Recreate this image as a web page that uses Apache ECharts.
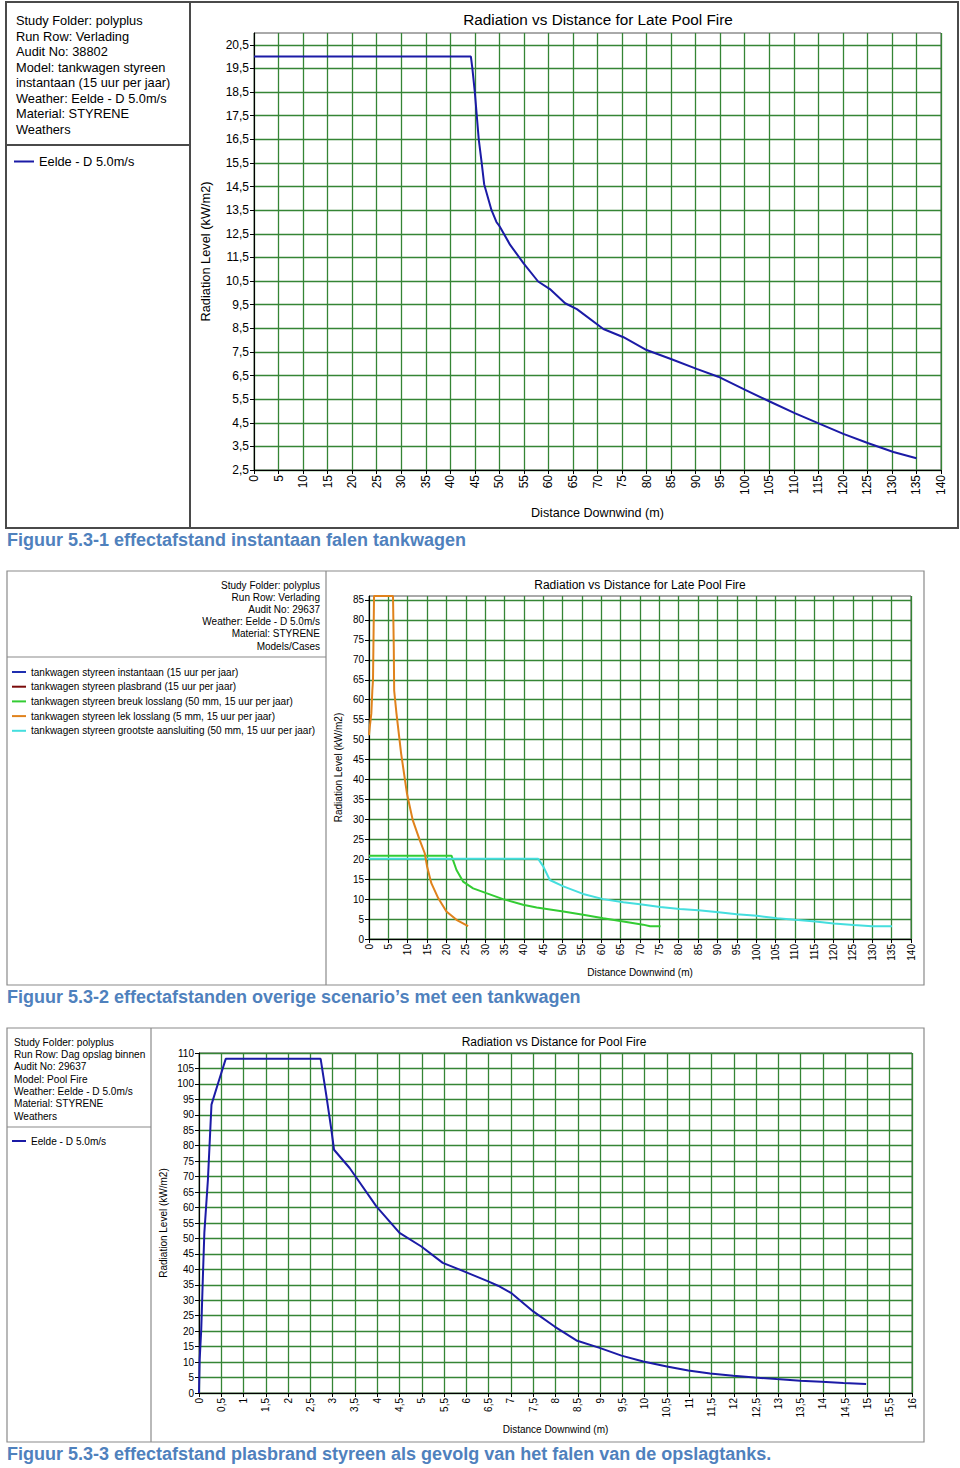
<!DOCTYPE html>
<html><head><meta charset="utf-8">
<script src="https://cdn.jsdelivr.net/npm/echarts@6/dist/echarts.min.js"></script>
<style>html,body{margin:0;padding:0;background:#fff}#c{width:960px;height:1468px}</style>
</head><body><div id="c"></div>
<script>
// ---------- DATA ----------
// Figure 1: instantaneous failure tank truck  [distance (m), radiation (kW/m2)]
const c1Instantaan = [[0,20.0],[44.2,20.0],[44.5,19.5],[45.0,18.5],[45.8,16.5],[46.4,15.5],[46.9,14.6],[48.4,13.5],[49.4,13.0],[50.1,12.8],[52.2,12.03],[54.9,11.26],[57.9,10.48],[60.3,10.16],[63.4,9.56],[65.8,9.31],[71.2,8.47],[75.3,8.12],[80.0,7.58],[85.1,7.19],[90.2,6.78],[94.6,6.45],[100.1,5.89],[105.2,5.39],[110.3,4.9],[115.3,4.45],[120.1,4.03],[125.2,3.63],[130.3,3.26],[135.0,3.0]];
const c1YTicks = [2.5,3.5,4.5,5.5,6.5,7.5,8.5,9.5,10.5,11.5,12.5,13.5,14.5,15.5,16.5,17.5,18.5,19.5,20.5];
const c1Info = ['Study Folder: polyplus','Run Row: Verlading','Audit No: 38802','Model: tankwagen styreen','instantaan (15 uur per jaar)','Weather: Eelde - D 5.0m/s','Material: STYRENE','Weathers'];
const c1SeriesName = 'Eelde - D 5.0m/s';

// Figure 2: other tank truck scenarios (instantaan / plasbrand not visible in the plot)
const c2Names = ['tankwagen styreen instantaan (15 uur per jaar)','tankwagen styreen plasbrand (15 uur per jaar)','tankwagen styreen breuk losslang (50 mm, 15 uur per jaar)','tankwagen styreen lek losslang (5 mm, 15 uur per jaar)','tankwagen styreen grootste aansluiting (50 mm, 15 uur per jaar)'];
const c2Instantaan = [];
const c2Plasbrand = [];
const c2Breuk = [[0,20.9],[21.3,20.9],[22.6,17.3],[24.3,14.4],[26.9,12.7],[30.3,11.5],[34.6,10.0],[39.8,8.6],[43.3,7.9],[50.2,6.9],[55.3,6.1],[60.5,5.2],[65.7,4.4],[70.8,3.6],[72.6,3.2],[75.3,3.2]];
const c2Lek = [[0,51.1],[0.2,53.2],[0.6,56.5],[0.86,62.3],[1.03,64.8],[1.3,86],[6.2,86],[6.4,73.2],[6.5,62.3],[7.1,56.5],[8.3,46.5],[9.8,36.5],[11.3,29.8],[13.1,24.8],[14.4,21.5],[15.0,18.2],[16.1,14.0],[17.9,10.2],[20.0,6.9],[22.6,4.8],[25.6,3.2]];
const c2Grootste = [[0,20.1],[43.7,20.1],[45.0,18.2],[46.7,14.8],[50.2,13.2],[55.3,11.3],[60.5,10.0],[65.7,9.2],[70.0,8.7],[75.2,8.0],[80.3,7.5],[85.1,7.2],[90.3,6.7],[95.0,6.2],[100.2,5.8],[105.4,5.2],[110.1,4.8],[115.3,4.4],[120.0,3.9],[125.2,3.5],[129.9,3.2],[135.1,3.2]];
const c2YTicks = [0,5,10,15,20,25,30,35,40,45,50,55,60,65,70,75,80,85];
const c2Info = ['Study Folder: polyplus','Run Row: Verlading','Audit No: 29637','Weather: Eelde - D 5.0m/s','Material: STYRENE','Models/Cases'];

// Figure 3: pool fire storage tanks
const c3PoolFire = [[0,0],[0.015,10.8],[0.05,20.5],[0.09,38.8],[0.12,51.8],[0.2,69.0],[0.28,93.3],[0.43,100.3],[0.6,108.1],[2.73,108.1],[2.86,96.0],[2.97,85.2],[3.03,78.7],[3.38,72.8],[3.98,60.4],[4.5,51.8],[4.99,47.4],[5.47,42.1],[5.85,39.9],[6.49,36.1],[6.71,34.7],[7.0,32.4],[7.5,26.4],[7.98,21.5],[8.47,17.0],[8.99,14.6],[9.48,12.1],[9.97,10.2],[10.5,8.6],[10.98,7.3],[11.47,6.3],[11.99,5.6],[12.47,5.0],[12.96,4.5],[13.49,4.0],[13.97,3.6],[14.46,3.2],[14.97,2.9]];
const c3YTicks = [0,5,10,15,20,25,30,35,40,45,50,55,60,65,70,75,80,85,90,95,100,105,110];
const c3Info = ['Study Folder: polyplus','Run Row: Dag opslag binnen','Audit No: 29637','Model: Pool Fire','Weather: Eelde - D 5.0m/s','Material: STYRENE','Weathers'];
const c3SeriesName = 'Eelde - D 5.0m/s';

const captions = ['Figuur 5.3-1 effectafstand instantaan falen tankwagen','Figuur 5.3-2 effectafstanden overige scenario\u2019s met een tankwagen','Figuur 5.3-3 effectafstand plasbrand styreen als gevolg van het falen van de opslagtanks.'];
const titles = ['Radiation vs Distance for Late Pool Fire','Radiation vs Distance for Late Pool Fire','Radiation vs Distance for Pool Fire'];
const xName = 'Distance Downwind (m)';
const yName = 'Radiation Level (kW/m2)';

// ---------- STYLE ----------
const FONT = '"Liberation Sans", Arial, sans-serif';
const GREEN = '#358535';
const NAVY = '#1b1ba6';
const comma = v => String(v).replace('.', ',');

function xAx(gi, max, interval, fs, nameGap, nameFs) {
  return {
    type:'value', gridIndex:gi, min:0, max:max, interval:interval,
    name:xName, nameLocation:'middle', nameGap:nameGap, nameMoveOverlap:false,
    nameTextStyle:{fontSize:nameFs, color:'#000', fontFamily:FONT},
    axisLine:{show:true, onZero:false, lineStyle:{color:'#000', width:1}},
    axisTick:{show:true, length:4, lineStyle:{color:'#000'}},
    axisLabel:{rotate:90, fontSize:fs, color:'#000', fontFamily:FONT, margin:5, formatter:comma, hideOverlap:false, showMinLabel:true, showMaxLabel:true},
    splitLine:{show:true, lineStyle:{color:GREEN, width:1.3}}
  };
}
function yAx(gi, min, max, ticks, fs, nameGap, nameFs) {
  return {
    type:'value', gridIndex:gi, min:min, max:max,
    name:yName, nameLocation:'middle', nameGap:nameGap, nameRotate:90, nameMoveOverlap:false,
    nameTextStyle:{fontSize:nameFs, color:'#000', fontFamily:FONT},
    axisLine:{show:true, onZero:false, lineStyle:{color:'#000', width:1}},
    axisTick:{show:true, length:4, customValues:ticks, lineStyle:{color:'#000'}},
    axisLabel:{customValues:ticks, fontSize:fs, color:'#000', fontFamily:FONT, margin:5, formatter:comma, hideOverlap:false},
    splitLine:{show:true, lineStyle:{color:GREEN, width:1.3}}
  };
}
function line(name, xi, data, color, z) {
  return {type:'line', name:name, xAxisIndex:xi, yAxisIndex:xi, data:data, symbol:'none', showSymbol:false, clip:false, z:z||2,
    lineStyle:{color:color, width:2}, itemStyle:{color:color}, emphasis:{disabled:true}, animation:false};
}
function infoText(x, y, lines, fs, lh, align) {
  return {type:'text', x:x, y:y, style:{text:lines.join('\n'), fill:'#000', font:fs+'px '+FONT, lineHeight:lh, textAlign:align||'left', textVerticalAlign:'top'}};
}
function rect(x,y,w,h,stroke,lw){return {type:'rect', shape:{x:x,y:y,width:w,height:h}, style:{fill:'none', stroke:stroke, lineWidth:lw}};}
function seg(x1,y1,x2,y2,stroke,lw){return {type:'line', shape:{x1:x1,y1:y1,x2:x2,y2:y2}, style:{stroke:stroke, lineWidth:lw}};}
function caption(y, t){return {type:'text', x:7, y:y, style:{text:t, fill:'#4f81bd', font:'bold 18px '+FONT, textVerticalAlign:'middle'}};}
function legendBox(data, left, top, w, fs, gap) {
  return {data:data, left:left, top:top, orient:'vertical', padding:0, icon:'rect', itemWidth:w, itemHeight:2, itemGap:gap, selectedMode:false,
    textStyle:{fontSize:fs, color:'#000', fontFamily:FONT}};
}

const chart = echarts.init(document.getElementById('c'), null, {renderer:'svg', width:960, height:1468});
chart.setOption({
  animation:false,
  backgroundColor:'#fff',
  title:[
    {text:titles[0], left:598, top:12, textAlign:'center', padding:0, textStyle:{fontSize:15.3, fontWeight:'normal', color:'#000', fontFamily:FONT}},
    {text:titles[1], left:640, top:579, textAlign:'center', padding:0, textStyle:{fontSize:12, fontWeight:'normal', color:'#000', fontFamily:FONT}},
    {text:titles[2], left:554, top:1036, textAlign:'center', padding:0, textStyle:{fontSize:12, fontWeight:'normal', color:'#000', fontFamily:FONT}}
  ],
  legend:[
    legendBox([c1SeriesName], 14, 155, 20, 12.8, 4),
    legendBox(c2Names, 12, 667, 14, 10, 4.7),
    legendBox([c3SeriesName], 12, 1136, 14, 10.1, 4)
  ],
  grid:[
    {left:254, top:33, width:687, height:437, show:true, borderColor:'#555', borderWidth:1, outerBoundsMode:'none', containLabel:false},
    {left:369, top:596, width:542, height:343, show:true, borderColor:'#555', borderWidth:1, outerBoundsMode:'none', containLabel:false},
    {left:199, top:1053, width:713, height:340, show:true, borderColor:'#555', borderWidth:1, outerBoundsMode:'none', containLabel:false}
  ],
  xAxis:[ xAx(0,140,5,12,36,12.6), xAx(1,140,5,10,28,10), xAx(2,16,0.5,10,31,10) ],
  yAxis:[ yAx(0,2.5,21,c1YTicks,12,42,12.8), yAx(1,0,86,c2YTicks,10,26,10), yAx(2,0,110,c3YTicks,10,31,10) ],
  series:[
    line(c1SeriesName,0,c1Instantaan,NAVY),
    line(c2Names[0],1,c2Instantaan,'#1f2fb0',2),
    line(c2Names[1],1,c2Plasbrand,'#7a0a0a',2),
    line(c2Names[2],1,c2Breuk,'#33cc33',3),
    line(c2Names[3],1,c2Lek,'#e0821c',4),
    line(c2Names[4],1,c2Grootste,'#45dede',3),
    line(c3SeriesName,2,c3PoolFire,NAVY)
  ],
  graphic:[
    rect(6,2,952,526,'#4a4a4a',2), seg(190,2,190,528,'#4a4a4a',2), seg(6,145,190,145,'#4a4a4a',2),
    infoText(16,13,c1Info,12.8,15.47),
    rect(7,571,917,414,'#8a8a8a',1.2), seg(326,571,326,985,'#8a8a8a',1.2), seg(7,657,326,657,'#8a8a8a',1.2),
    infoText(320,579,c2Info,10,12.2,'right'),
    rect(7,1028,917,414,'#8a8a8a',1.2), seg(151,1028,151,1442,'#8a8a8a',1.2), seg(7,1127,151,1127,'#8a8a8a',1.2),
    infoText(14,1036,c3Info,10.1,12.33),
    caption(540,captions[0]), caption(997,captions[1]), caption(1454,captions[2])
  ]
});
</script></body></html>
